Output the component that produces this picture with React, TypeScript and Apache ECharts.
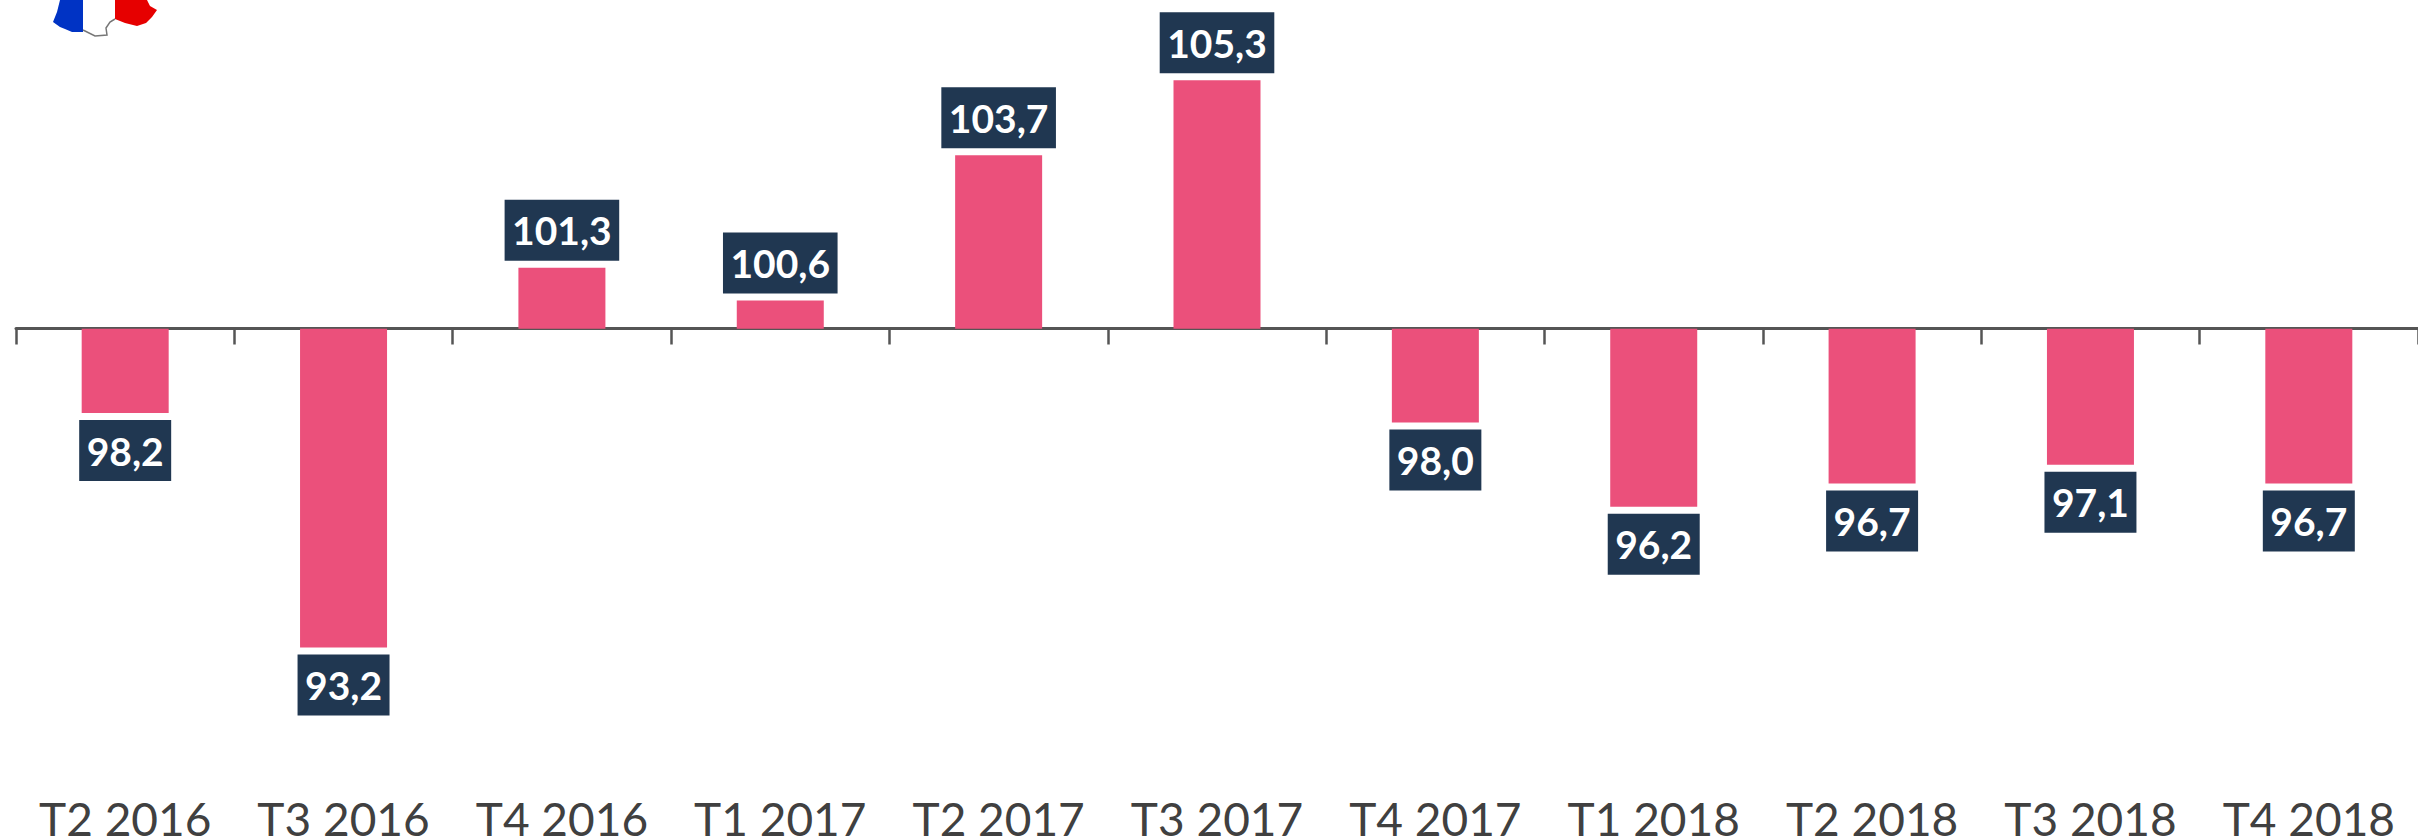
import React, { useEffect, useRef } from "react";
import * as echarts from "echarts";

const categories = ["T2 2016","T3 2016","T4 2016","T1 2017","T2 2017","T3 2017","T4 2017","T1 2018","T2 2018","T3 2018","T4 2018"];
const values = [98.2,93.2,101.3,100.6,103.7,105.3,98.0,96.2,96.7,97.1,96.7];
const baseline = 100;
const blueArea = [[60,0],[83,0],[83,32],[72,32],[65,29],[60,27],[53,22],[57,12]];
const redArea = [[115,0],[147,0],[150,6],[157,10],[152,17],[146,23],[137,26],[125,23],[115,19]];
const border = [[83,30],[95,36],[107,35],[106,28],[110,22],[115,19]];

export default function App() {
  const ref = useRef<HTMLDivElement>(null);
  useEffect(() => {
    document.body.style.margin = "0";
    const chart = echarts.init(ref.current!, null, { renderer: "svg" });
    chart.setOption({
      animation: false,
      backgroundColor: "#ffffff",
      grid: { left: 16, right: 0, top: 0.5, height: 797, containLabel: false, outerBoundsMode: "none" },
      xAxis: [
        {
          type: "category", data: categories, position: "bottom", offset: -469,
          axisLine: { show: true, lineStyle: { color: "#555555", width: 3 } },
          axisTick: { show: true, length: 16, alignWithLabel: false, lineStyle: { color: "#555555", width: 2.5 } },
          axisLabel: { show: false },
        },
        {
          type: "category", data: categories, position: "bottom", offset: 0,
          axisLine: { show: false }, axisTick: { show: false },
          axisLabel: { show: true, interval: 0, color: "#404040", fontFamily: "Lato", fontSize: 46, margin: 21, verticalAlign: "middle", lineHeight: 36 },
        },
      ],
      yAxis: { type: "value", min: 90, max: 107, startValue: baseline, show: false, splitLine: { show: false } },
      series: [{
        type: "bar",
        barWidth: 87,
        itemStyle: { color: "#EB507B" },
        data: values.map((v) => ({
          value: v,
          label: { position: v < baseline ? "bottom" : "top" },
        })),
        label: {
          show: true,
          distance: 7,
          formatter: (p: any) => Number(p.value).toFixed(1).replace(".", ","),
          color: "#ffffff",
          fontFamily: "Lato",
          fontWeight: "bold",
          fontSize: 39,
          lineHeight: 45,
          backgroundColor: "#203751",
          padding: [8, 7.5, 8, 7.5],
        },
      }],
      graphic: [
        { type: "polygon", shape: { points: blueArea }, style: { fill: "#0033C4" } },
        { type: "polygon", shape: { points: redArea }, style: { fill: "#E60000" } },
        { type: "polyline", shape: { points: border }, style: { stroke: "#777777", lineWidth: 1.5, fill: "none" } },
      ],
    });
    return () => chart.dispose();
  }, []);
  return <div ref={ref} style={{ width: 2418, height: 839 }} />;
}
